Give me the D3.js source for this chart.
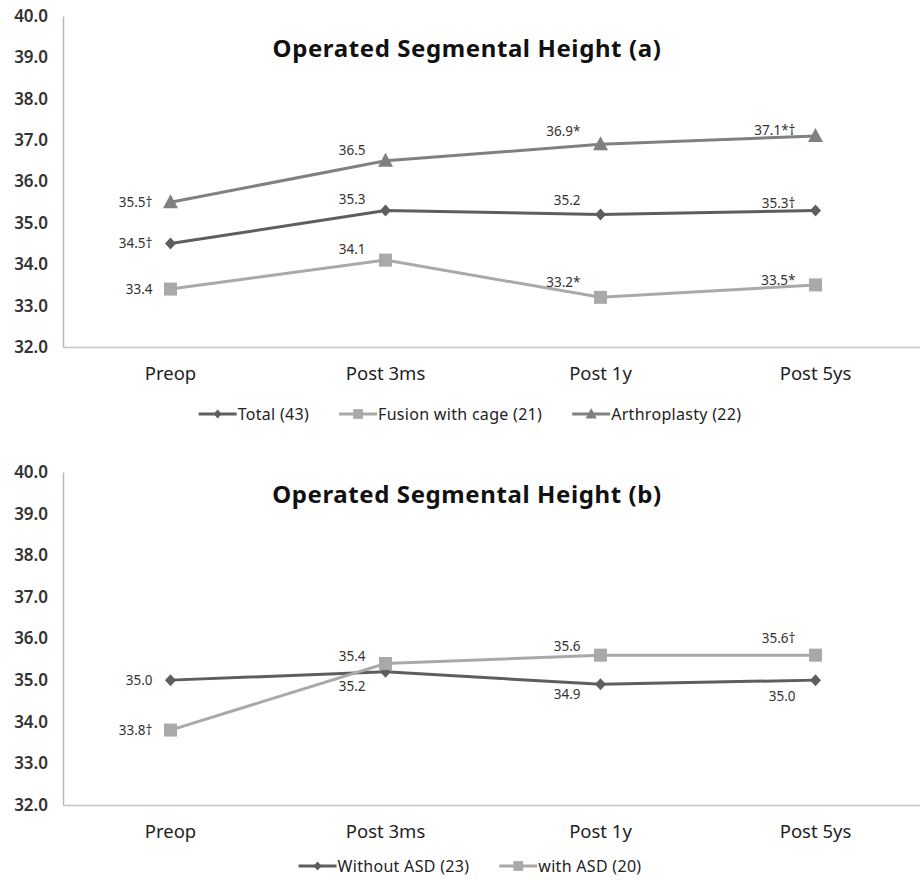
<!DOCTYPE html>
<html>
<head>
<meta charset="utf-8">
<script src="https://cdn.jsdelivr.net/npm/d3@7"></script>
<style>
  html, body { margin: 0; padding: 0; background: #ffffff; }
  svg { display: block; font-family: "Noto Sans", "DejaVu Sans", sans-serif; }
</style>
</head>
<body>
<svg id="chart" width="920" height="880"></svg>
<script>
// Time points
const categories = ["Preop", "Post 3ms", "Post 1y", "Post 5ys"];
const yTicks = [32, 33, 34, 35, 36, 37, 38, 39, 40];

// Panel (a): all patients and by procedure
const totalValues = [34.5, 35.3, 35.2, 35.3];
const totalMarks = ["†", "", "", "†"];
const fusionValues = [33.4, 34.1, 33.2, 33.5];
const fusionMarks = ["", "", "*", "*"];
const arthroValues = [35.5, 36.5, 36.9, 37.1];
const arthroMarks = ["†", "", "*", "*†"];

// Panel (b): by adjacent segment disease
const withoutAsdValues = [35.0, 35.2, 34.9, 35.0];
const withoutAsdMarks = ["", "", "", ""];
const withAsdValues = [33.8, 35.4, 35.6, 35.6];
const withAsdMarks = ["†", "", "", "†"];

const svg = d3.select("#chart");

const x = d3.scaleBand().domain(categories).range([63, 923]);
const cx = d => x(d) + x.bandwidth() / 2;

function marker(g, shape, color, px, py, k) {
  k = k || 1;
  if (shape === "diamond") {
    g.append("path").attr("d", `M${px},${py - 6 * k}L${px + 5.5 * k},${py}L${px},${py + 6 * k}L${px - 5.5 * k},${py}Z`).attr("fill", color);
  } else if (shape === "square") {
    g.append("rect").attr("x", px - 6.5 * k).attr("y", py - 6.5 * k).attr("width", 13 * k).attr("height", 13 * k).attr("fill", color);
  } else {
    g.append("path").attr("d", `M${px},${py - 8 * k}L${px + 7.5 * k},${py + 6 * k}L${px - 7.5 * k},${py + 6 * k}Z`).attr("fill", color);
  }
}

function drawPanel(p) {
  const g = svg.append("g");
  const y = d3.scaleLinear().domain([32, 40]).range([p.bottom, p.top]);

  // y axis labels
  const yAxis = d3.axisLeft(y).tickValues(yTicks).tickFormat(d3.format(".1f")).tickSize(0).tickPadding(15);
  const ya = g.append("g").attr("transform", "translate(63,0)").call(yAxis);
  ya.select(".domain").attr("stroke", "#b8b8b8").attr("stroke-width", 1.5);
  ya.selectAll("text").attr("font-size", 17).attr("font-weight", 600).attr("fill", "#333")
    .attr("font-family", "'Noto Sans', sans-serif");

  // x axis
  const xAxis = d3.axisBottom(x).tickSize(0).tickPadding(20);
  const xa = g.append("g").attr("transform", `translate(0,${p.bottom})`).call(xAxis);
  xa.select(".domain").attr("stroke", "#c4c4c4").attr("stroke-width", 1.5);
  xa.selectAll("text").attr("font-size", 18.5).attr("fill", "#222")
    .attr("font-family", "'Noto Sans', sans-serif");

  // title
  g.append("text").attr("x", 467).attr("y", p.titleY).attr("text-anchor", "middle")
    .attr("font-size", 24).attr("font-weight", "bold").attr("letter-spacing", 0.6)
    .attr("fill", "#111").text(p.title);

  const line = d3.line().x((d, i) => cx(categories[i])).y(d => y(d));

  p.series.forEach(s => {
    g.append("path").datum(s.values).attr("d", line).attr("fill", "none")
      .attr("stroke", s.color).attr("stroke-width", 3);
    s.values.forEach((v, i) => marker(g, s.shape, s.color, cx(categories[i]), y(v)));
    s.values.forEach((v, i) => {
      const px = cx(categories[i]), py = y(v);
      let lx, ly;
      if (i === 0) { lx = px - 18; ly = py; }
      else { lx = px - 20; ly = py + s.dy[i]; }
      g.append("text").attr("x", lx).attr("y", ly).attr("dy", "0.35em")
        .attr("text-anchor", "end").attr("font-size", 13.5).attr("fill", "#333")
        .text(d3.format(".1f")(v) + s.marks[i]);
    });
  });

  // legend
  const lg = g.append("g");
  let cursor = 0;
  p.series.forEach(s => {
    const it = lg.append("g").attr("transform", `translate(${cursor},0)`);
    it.append("line").attr("x1", 0).attr("x2", 38).attr("y1", 0).attr("y2", 0)
      .attr("stroke", s.color).attr("stroke-width", 3);
    marker(it, s.shape, s.color, 19, 0, 0.75);
    const t = it.append("text").attr("x", 39).attr("dy", "0.35em").attr("font-size", 16)
      .attr("letter-spacing", 0.3).attr("fill", "#222").text(s.name);
    cursor += 39 + t.node().getComputedTextLength() + 30;
  });
  const total = cursor - 30;
  lg.attr("transform", `translate(${470 - total / 2},${p.legendY})`);
}

drawPanel({
  top: 16, bottom: 347, titleY: 57, legendY: 414,
  title: "Operated Segmental Height (a)",
  series: [
    { name: "Total (43)", values: totalValues, marks: totalMarks, color: "#5e5e5e", shape: "diamond", dy: [0, -11, -14, -7] },
    { name: "Fusion with cage (21)", values: fusionValues, marks: fusionMarks, color: "#a9a9a9", shape: "square", dy: [0, -11, -15, -5] },
    { name: "Arthroplasty (22)", values: arthroValues, marks: arthroMarks, color: "#808080", shape: "triangle", dy: [0, -11, -13, -6] }
  ]
});

drawPanel({
  top: 472, bottom: 805, titleY: 503, legendY: 866,
  title: "Operated Segmental Height (b)",
  series: [
    { name: "Without ASD (23)", values: withoutAsdValues, marks: withoutAsdMarks, color: "#5e5e5e", shape: "diamond", dy: [0, 14, 10, 16] },
    { name: "with ASD (20)", values: withAsdValues, marks: withAsdMarks, color: "#a9a9a9", shape: "square", dy: [0, -7, -9, -17] }
  ]
});
</script>
</body>
</html>
